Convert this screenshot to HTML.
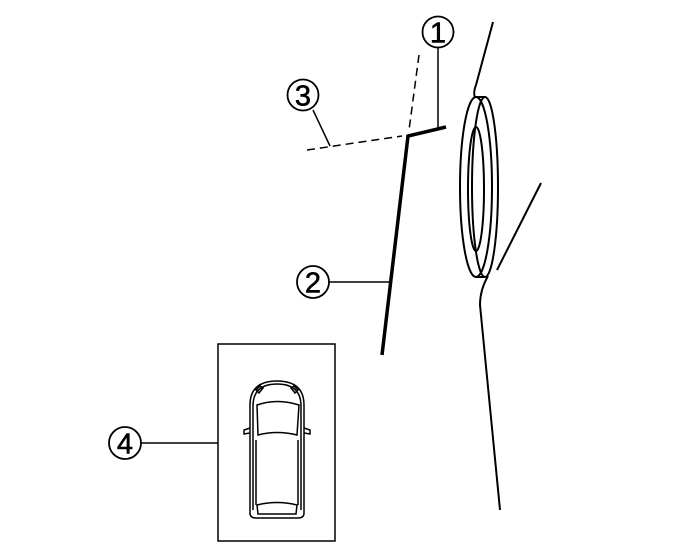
<!DOCTYPE html>
<html><head><style>html,body{margin:0;padding:0;background:#fff}svg{display:block}text{font-family:"Liberation Sans",sans-serif}</style></head><body>
<svg width="685" height="555" viewBox="0 0 685 555" xmlns="http://www.w3.org/2000/svg" fill="none" stroke="#000">
<path d="M493 22 L476 85 Q473 92 475 98" stroke-width="2"/>
<path d="M488 276 Q480 290 480 305 L500 510" stroke-width="2"/>
<line x1="541" y1="183" x2="497" y2="270" stroke-width="2"/>
<ellipse cx="476" cy="187" rx="16" ry="90" stroke-width="2"/>
<ellipse cx="485" cy="187" rx="13" ry="90" stroke-width="2"/>
<ellipse cx="476" cy="189" rx="8" ry="62" stroke-width="2"/>
<line x1="476" y1="97" x2="485" y2="97" stroke-width="2"/>
<line x1="476" y1="277" x2="485" y2="277" stroke-width="2"/>
<path d="M446 127 L408 136 L382 355" stroke-width="3.5"/>
<line x1="419" y1="55" x2="409" y2="130" stroke-width="1.5" stroke-dasharray="8,5"/>
<line x1="307" y1="150" x2="402" y2="136" stroke-width="1.5" stroke-dasharray="8,5"/>
<line x1="438" y1="48" x2="438" y2="128" stroke-width="1.5"/>
<line x1="313" y1="110" x2="330" y2="146" stroke-width="1.5"/>
<line x1="328" y1="282" x2="389" y2="282" stroke-width="1.5"/>
<line x1="141" y1="443" x2="218" y2="443" stroke-width="1.5"/>
<g stroke-width="1.8" fill="#fff">
<circle cx="438" cy="32" r="15.5"/>
<circle cx="303" cy="95" r="15.5"/>
<circle cx="313" cy="282" r="16"/>
<circle cx="125" cy="443" r="16"/>
</g>
<g fill="#000" stroke="#000" stroke-width="0.6" font-size="29" text-anchor="middle">
<text x="438" y="42.5">1</text>
<text x="303" y="105.5">3</text>
<text x="313" y="292.5">2</text>
<text x="125" y="453.5">4</text>
</g>
<rect x="218" y="344" width="117" height="197" stroke-width="1.5"/>
<g stroke-width="1.5">
<path d="M250 513 L250 405 Q250 381 277 381 Q304 381 304 405 L304 513 Q304 518 298 518 L256 518 Q250 518 250 513 Z"/>
<path d="M253 510 L253 406 Q253 384 277 384 Q301 384 301 406 L301 510"/>
<path d="M257 405 Q277 398 299 405 L297 435 Q277 430 258 435 Z"/>
<path d="M256 390 L260 386 L263 388 L259 393 Z"/>
<path d="M298 390 L294 386 L291 388 L295 393 Z"/>
<path d="M250 428 L244 430 L244 434 L250 433"/>
<path d="M304 428 L310 430 L310 434 L304 433"/>
<line x1="256" y1="440" x2="256" y2="505"/>
<line x1="298" y1="440" x2="298" y2="505"/>
<path d="M257 505 Q277 500 297 505 L296 514 L258 514 Z"/>
</g>
</svg>
</body></html>
